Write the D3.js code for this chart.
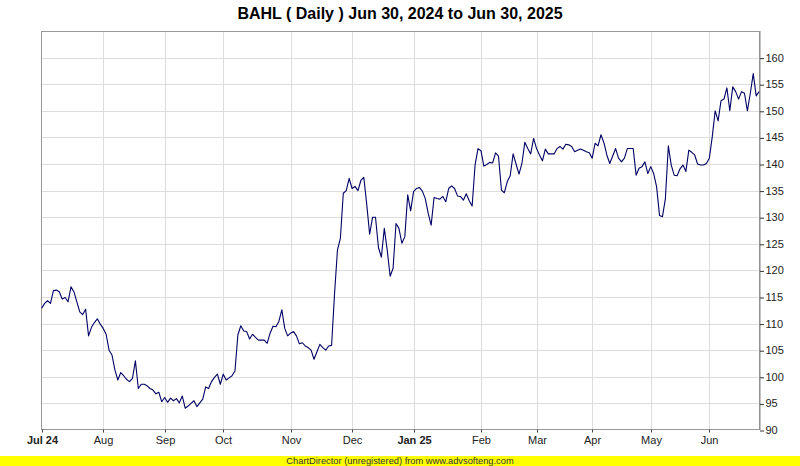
<!DOCTYPE html>
<html>
<head>
<meta charset="utf-8">
<script src="https://cdn.jsdelivr.net/npm/d3@7/dist/d3.min.js"></script>
<style>
  html, body { margin: 0; padding: 0; background: #fff; }
  svg { display: block; font-family: "Liberation Sans", Arial, sans-serif; }
</style>
</head>
<body>
<svg id="chart" width="800" height="466"></svg>
<script>
// ---- Data ----
const titleText = "BAHL ( Daily ) Jun 30, 2024 to Jun 30, 2025";
const footerText = "ChartDirector (unregistered) from www.advsofteng.com";

// Daily closing prices, one per trading day
const closes = [
112.9,113.8,114.3,113.8,116.2,116.3,116.0,114.6,114.9,114.1,
116.9,116.0,114.1,112.2,111.7,112.7,107.7,109.3,110.2,110.9,
109.9,109.1,108.0,105.0,104.1,101.3,99.4,100.8,100.2,99.5,
99.1,99.7,103.0,97.8,98.6,98.6,98.3,97.8,97.5,96.8,
97.1,95.3,96.1,95.2,96.0,95.5,95.9,95.1,96.4,94.1,
94.5,95.0,95.5,94.4,95.1,95.8,98.1,97.8,99.1,99.9,
100.5,98.6,100.5,99.4,99.8,100.2,101.1,107.9,109.6,108.6,
108.5,107.1,108.0,107.4,106.9,106.9,106.9,106.3,108.2,109.5,
109.4,110.4,112.6,109.1,107.7,108.2,108.5,107.7,106.2,106.4,
105.8,105.5,105.0,103.3,104.7,106.1,105.5,105.0,105.8,105.9,
115.5,123.8,126.0,134.5,135.0,137.3,135.4,135.8,135.0,136.9,
137.5,132.4,126.8,130.0,130.0,124.3,122.5,127.9,123.8,118.9,
120.4,128.8,127.9,125.1,126.3,134.2,131.2,134.8,135.4,135.6,
134.9,133.5,130.7,128.5,133.7,133.5,133.4,133.9,132.9,135.4,
135.9,135.4,134.0,133.9,133.2,134.4,133.1,132.1,139.8,142.9,
142.5,139.6,139.9,140.3,140.2,142.1,141.5,135.1,134.6,136.7,
137.8,141.9,140.0,138.1,140.1,144.1,142.9,141.9,144.8,142.9,
141.7,140.6,142.8,141.9,141.9,141.9,142.9,143.3,142.8,143.7,
143.6,143.3,142.3,142.6,142.8,142.6,142.3,142.1,141.1,143.9,
143.4,145.5,144.0,141.7,140.1,141.5,142.9,141.1,140.4,141.1,
142.9,142.9,142.9,137.9,139.2,139.5,140.4,138.2,139.5,138.2,
135.7,130.3,130.1,133.5,143.4,139.8,137.9,137.8,139.1,139.8,
138.6,142.6,142.2,141.7,140.0,139.8,139.8,140.1,141.1,145.1,
150.0,148.1,151.9,152.2,154.3,150.0,154.5,153.6,152.2,153.6,
153.3,150.0,153.3,157.0,152.8,153.6
];

// Month labels and the trading-day index where each month starts
const monthLabels = ["Jul 24","Aug","Sep","Oct","Nov","Dec","Jan 25","Feb","Mar","Apr","May","Jun"];
const monthStart  = [0, 21, 42, 62, 85, 106, 127, 150, 169, 188, 208, 228];
const boldLabels  = ["Jul 24", "Jan 25"];

// Y axis ticks
const yTicks = [90,95,100,105,110,115,120,125,130,135,140,145,150,155,160];
const yDomain = [90, 165];

// ---- Layout ----
const W = 800, H = 466;
const plot = { left: 41.7, right: 759.1, top: 31, bottom: 430 };
const plotBoxLeft = 41, plotBoxRight = 760;

const svg = d3.select("#chart");

const x = d3.scaleLinear().domain([0, closes.length - 1]).range([plot.left, plot.right]);
const y = d3.scaleLinear().domain(yDomain).range([plot.bottom, plot.top]);

const crisp = v => Math.round(v) + 0.5;

// Title
svg.append("text")
  .attr("x", 400).attr("y", 19)
  .attr("text-anchor", "middle")
  .attr("font-size", 16).attr("font-weight", "bold")
  .attr("fill", "#000")
  .text(titleText);

// Plot background
svg.append("rect")
  .attr("x", plotBoxLeft).attr("y", plot.top)
  .attr("width", plotBoxRight - plotBoxLeft).attr("height", plot.bottom - plot.top)
  .attr("fill", "#fff");

// Horizontal grid
const grid = svg.append("g").attr("class", "grid");
grid.selectAll("line.h").data(yTicks.filter(t => t > yDomain[0]))
  .join("line").attr("class", "h")
  .attr("x1", plotBoxLeft).attr("x2", plotBoxRight)
  .attr("y1", d => crisp(y(d))).attr("y2", d => crisp(y(d)))
  .attr("stroke", "#dddddd").attr("stroke-width", 1);

// Vertical grid at month starts
grid.selectAll("line.v").data(monthStart.filter(i => i > 0))
  .join("line").attr("class", "v")
  .attr("y1", plot.top).attr("y2", plot.bottom)
  .attr("x1", d => crisp(x(d))).attr("x2", d => crisp(x(d)))
  .attr("stroke", "#dddddd").attr("stroke-width", 1);

// Plot border
svg.append("rect")
  .attr("x", plotBoxLeft + 0.5).attr("y", plot.top + 0.5)
  .attr("width", plotBoxRight - plotBoxLeft - 1).attr("height", plot.bottom - plot.top - 1)
  .attr("fill", "none").attr("stroke", "#999999").attr("stroke-width", 1);

// Price line
const line = d3.line()
  .x((d, i) => x(i))
  .y(d => y(d));
svg.append("path")
  .datum(closes)
  .attr("d", line)
  .attr("fill", "none")
  .attr("stroke", "#000066")
  .attr("stroke-width", 1.1)
  .attr("stroke-linejoin", "round");

// Right Y axis
const yAxis = d3.axisRight(y).tickValues(yTicks).tickSize(4).tickPadding(2).tickFormat(d3.format("d"));
const yg = svg.append("g")
  .attr("transform", `translate(${plotBoxRight - 0.5},0)`)
  .call(yAxis);
yg.select(".domain").attr("stroke", "#888888").attr("d", `M0.5,${plot.top}V${plot.bottom}`);
yg.selectAll(".tick line").attr("stroke", "#333").attr("transform", "translate(0.5,0.5)");
yg.selectAll(".tick text")
  .attr("font-size", 11).attr("fill", "#222")
  .attr("font-family", "Liberation Sans, Arial, sans-serif");

// Bottom X axis
const labelByIdx = new Map(monthStart.map((s, i) => [s, monthLabels[i]]));
const xAxis = d3.axisBottom(x).tickValues(monthStart).tickSize(3).tickPadding(4)
  .tickFormat(d => labelByIdx.get(d));
const xg = svg.append("g")
  .attr("transform", `translate(0,${plot.bottom - 0.5})`)
  .call(xAxis);
xg.select(".domain").remove();
xg.selectAll(".tick line").attr("stroke", "#444");
xg.selectAll(".tick").attr("transform", d => `translate(${crisp(x(d))},0)`);
xg.selectAll(".tick text")
  .attr("font-size", 11).attr("fill", "#222")
  .attr("font-family", "Liberation Sans, Arial, sans-serif")
  .attr("font-weight", d => boldLabels.includes(labelByIdx.get(d)) ? "bold" : "normal");

// Footer bar
svg.append("rect")
  .attr("x", 0).attr("y", 456).attr("width", W).attr("height", H - 456)
  .attr("fill", "#ffff00");
svg.append("text")
  .attr("x", 400).attr("y", 464)
  .attr("text-anchor", "middle")
  .attr("font-size", 9.3).attr("fill", "#333")
  .text(footerText);
</script>
</body>
</html>
